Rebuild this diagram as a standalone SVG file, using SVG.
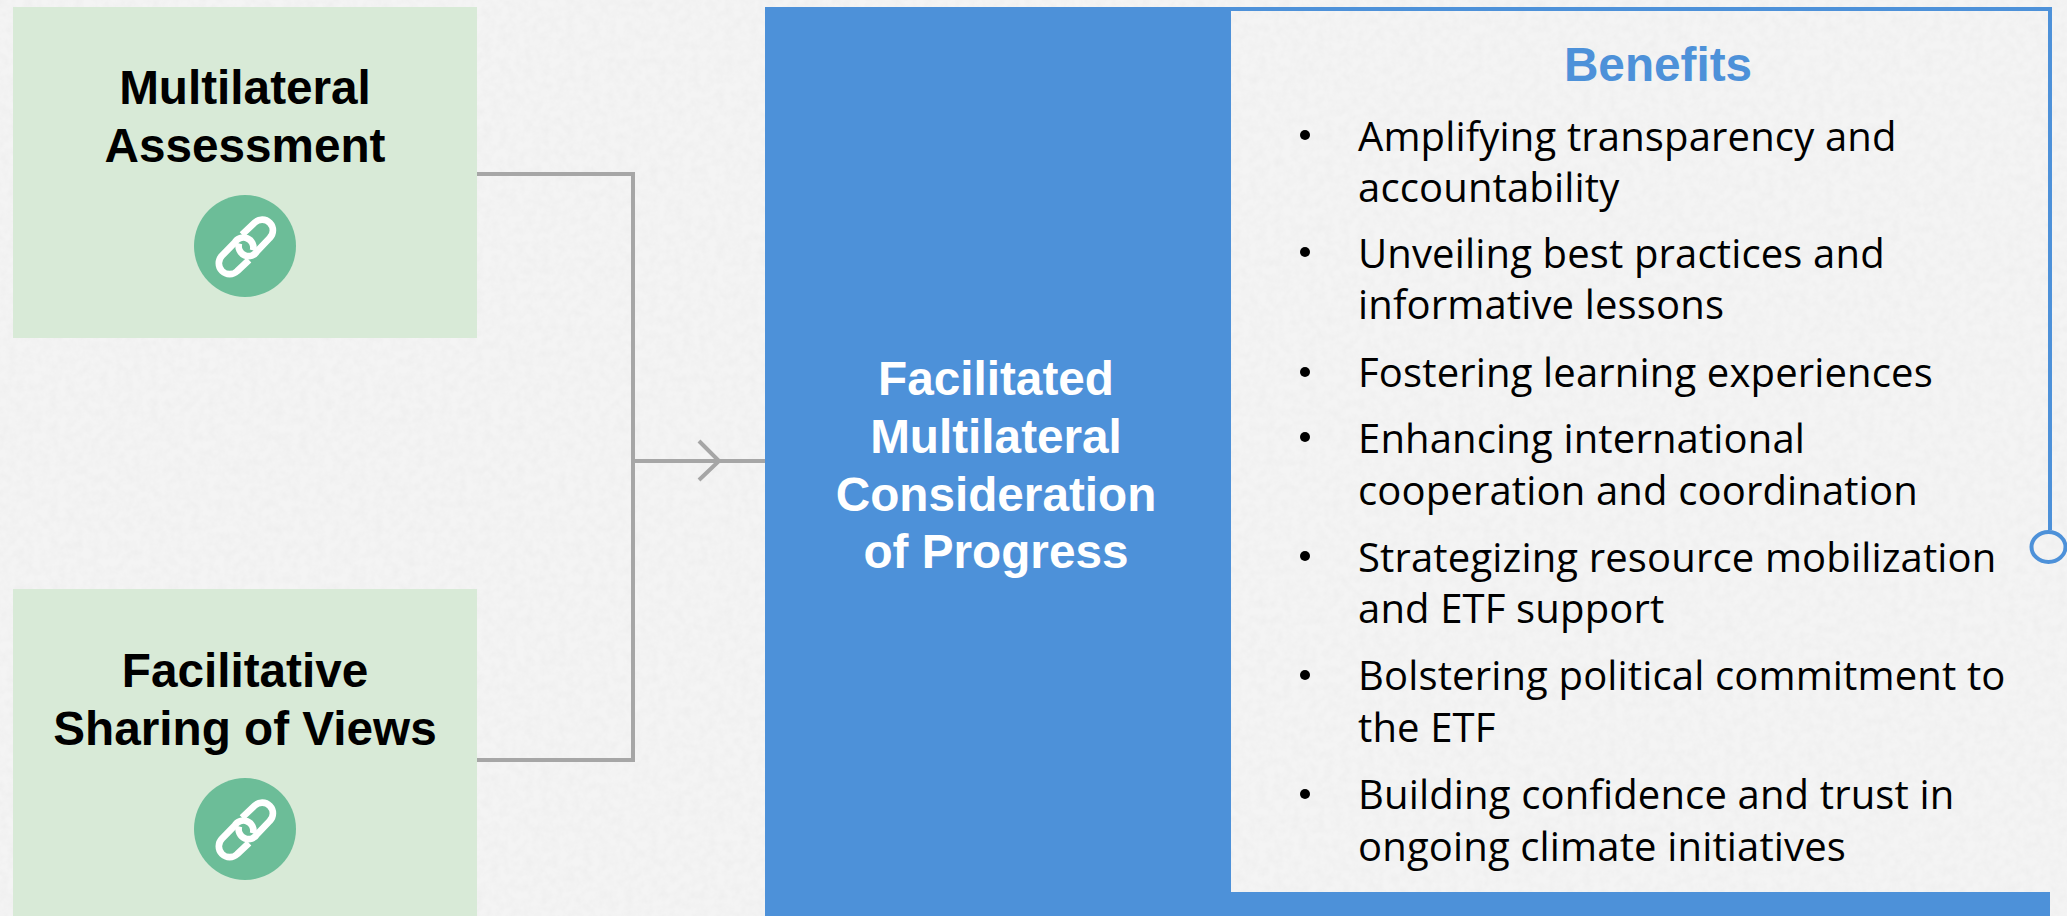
<svg xmlns="http://www.w3.org/2000/svg" width="2067" height="916" viewBox="0 0 2067 916">
<style>
.h{font-family:"Liberation Sans",Arial,sans-serif;font-weight:700;font-size:47.7px;text-anchor:middle}
.b{font-family:"Open Sans","Noto Sans",sans-serif;font-size:40px;letter-spacing:.15px;fill:#000}
.c{fill:none;stroke:#a6a6a6;stroke-width:4}
.g{fill:#d8ead7}
</style>
<defs>
<filter id="paper" x="0" y="0" width="100%" height="100%">
<feTurbulence type="fractalNoise" baseFrequency=".12" numOctaves="3" seed="4"/>
<feColorMatrix type="matrix" values="0 0 0 0 .6  0 0 0 0 .6  0 0 0 0 .6  .22 0 0 0 -.07"/>
</filter>
<g id="link">
<circle cx="0" cy="0" r="51" fill="#6cbd98"/>
<g transform="scale(.3333) translate(-254 -206)" fill="none" stroke="#fff" stroke-width="20">
<path d="M245 172L283 136A30 30 0 0 1 328 182L291 221A30 30 0 0 1 236 198"/>
<path d="M266 248L231 281A30 30 0 0 1 185 235L223 196A30 30 0 0 1 278 219"/>
</g>
</g>
</defs>
<rect width="2067" height="916" fill="#f4f4f4"/>
<rect width="2067" height="916" filter="url(#paper)"/>
<g id="connectors">
<path class="c" d="M477 174H633V760H477"/>
<path class="c" d="M633 461H766"/>
<path class="c" d="M699 441L719 461L699 480"/>
</g>
<g id="node-assessment">
<rect class="g" x="13" y="7" width="464" height="331"/>
<text class="h" x="245" y="104">Multilateral</text>
<text class="h" x="245" y="162">Assessment</text>
<use href="#link" x="245" y="246"/>
</g>
<g id="node-sharing">
<rect class="g" x="13" y="589" width="464" height="327"/>
<text class="h" x="245" y="687">Facilitative</text>
<text class="h" x="245" y="745">Sharing of Views</text>
<use href="#link" x="245" y="829"/>
</g>
<g id="node-fmcp">
<rect x="765" y="7" width="466" height="909" fill="#4d91d9"/>
<rect x="1230" y="892" width="820" height="24" fill="#4d91d9"/>
<g class="h" fill="#fff">
<text x="996" y="395">Facilitated</text>
<text x="996" y="453">Multilateral</text>
<text x="996" y="511">Consideration</text>
<text x="996" y="568">of Progress</text>
</g>
</g>
<g id="node-benefits">
<path d="M1228 9H2050V530" fill="none" stroke="#4d91d9" stroke-width="4"/>
<ellipse cx="2048.5" cy="547" rx="17" ry="15" fill="none" stroke="#4d91d9" stroke-width="4"/>
<text class="h" x="1658" y="81" fill="#4d91d9">Benefits</text>
<g fill="#000">
<circle cx="1305" cy="135" r="5"/><circle cx="1305" cy="252" r="5"/><circle cx="1305" cy="372" r="5"/><circle cx="1305" cy="437" r="5"/><circle cx="1305" cy="556" r="5"/><circle cx="1305" cy="675" r="5"/><circle cx="1305" cy="794" r="5"/>
</g>
<text class="b" x="1358" y="151">Amplifying transparency and</text>
<text class="b" x="1358" y="202">accountability</text>
<text class="b" x="1358" y="268">Unveiling best practices and</text>
<text class="b" x="1358" y="319">informative lessons</text>
<text class="b" x="1358" y="387">Fostering learning experiences</text>
<text class="b" x="1358" y="453">Enhancing international</text>
<text class="b" x="1358" y="505">cooperation and coordination</text>
<text class="b" x="1358" y="572">Strategizing resource mobilization</text>
<text class="b" x="1358" y="623">and ETF support</text>
<text class="b" x="1358" y="690">Bolstering political commitment to</text>
<text class="b" x="1358" y="742">the ETF</text>
<text class="b" x="1358" y="809">Building confidence and trust in</text>
<text class="b" x="1358" y="861">ongoing climate initiatives</text>
</g>
</svg>
